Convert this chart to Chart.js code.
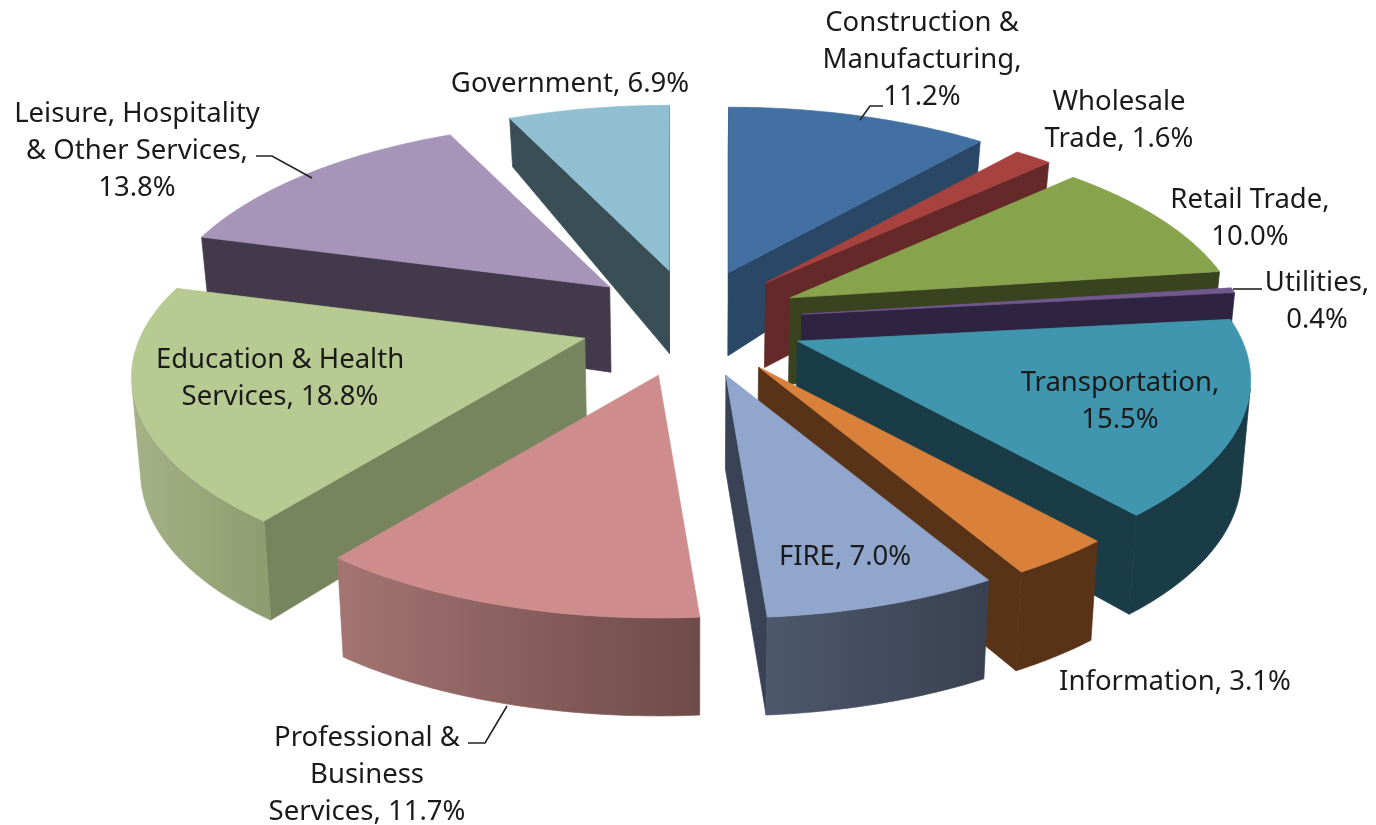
<!DOCTYPE html>
<html>
<head>
<meta charset="utf-8">
<script src="https://cdn.jsdelivr.net/npm/chart.js@4"></script>
<style>
  html, body { margin: 0; background: #fff; }
  canvas { display: block; }
</style>
</head>
<body>
<canvas id="pieChart" width="1376" height="825"></canvas>
<script>
const categories = ['Construction & Manufacturing', 'Wholesale Trade', 'Retail Trade', 'Utilities', 'Transportation', 'Information', 'FIRE', 'Professional & Business Services', 'Education & Health Services', 'Leisure, Hospitality & Other Services', 'Government'];
const shares = [11.2, 1.6, 10.0, 0.4, 15.5, 3.1, 7.0, 11.7, 18.8, 13.8, 6.9];

const topColors = ['#4270a3', '#a8423f', '#87a34c', '#71588f', '#4096ae', '#d9803b', '#91a6cd', '#ce8d8c', '#b6ca92', '#a695b9', '#90bfd2'];
const wallColors = ['#2a4766', '#652929', '#3a431f', '#2e2340', '#1a3c47', '#583318', '#3a4255', '#704d4b', '#76855d', '#43394a', '#3a4e55'];
const rimLeft = ['#2a4766', '#652929', '#3a431f', '#2e2340', '#1a3c47', '#583318', '#4e586d', '#a37472', '#a5b186', '#43394a', '#3a4e55'];
const rimRight = ['#2a4766', '#652929', '#3a431f', '#2e2340', '#1a3c47', '#583318', '#394150', '#6e4b49', '#8d9d70', '#43394a', '#3a4e55'];

// text lines of each data label, the value goes on the end of the last one
const labelLines = [
  ['Construction &', 'Manufacturing,', ''],
  ['Wholesale', 'Trade, '],
  ['Retail Trade,', ''],
  ['Utilities,', ''],
  ['Transportation,', ''],
  ['Information, '],
  ['FIRE, '],
  ['Professional &', 'Business', 'Services, '],
  ['Education & Health', 'Services, '],
  ['Leisure, Hospitality', '& Other Services,', ''],
  ['Government, ']
];
const labelX = [922, 1119, 1250, 1317, 1120, 1175, 845, 367, 280, 137, 570];
const labelY = [23, 102, 200, 283, 383, 682, 557, 738, 360, 114, 84];
const leaders = [
  [[860, 120], [870, 106], [883, 106]],
  [[1233, 289], [1262, 289]],
  [[256, 156], [272, 156], [312, 178]],
  [[507, 706], [485, 743], [468, 743]]
];

const CENTER_X = 692, CENTER_Y = 321, UNIT = 445;
const TILT = 196.6, PERSPECTIVE = 0.19, BOTTOM_SHRINK = 0.984, APEX_STRETCH = 1.1;

function depthAt(gy) {
  return 89 - 21.7 * gy - 11.7 * gy * gy;
}

function project(gx, gy) {
  const s = 1 / (1 + PERSPECTIVE * gy);
  return [gx * s * UNIT, -gy * s * TILT];
}

// the slice keeps its own shape round its apex, only the apex moves out
function placePoint(apex, gx, gy, totalGy, bottom) {
  const p = project(gx, gy);
  const x = apex[0] + p[0], y = apex[1] + p[1];
  if (!bottom) return [CENTER_X + x, CENTER_Y + y];
  return [CENTER_X + x * BOTTOM_SHRINK, CENTER_Y + y + depthAt(totalGy)];
}

function area(pts) {
  let a = 0;
  pts.forEach((p, i) => {
    const q = pts[(i + 1) % pts.length];
    a += p[0] * q[1] - q[0] * p[1];
  });
  return a;
}

function fillPoly(ctx, pts, color) {
  ctx.beginPath();
  pts.forEach((p, i) => i ? ctx.lineTo(p[0], p[1]) : ctx.moveTo(p[0], p[1]));
  ctx.closePath();
  ctx.fillStyle = color;
  ctx.strokeStyle = color;
  ctx.lineWidth = 0.7;
  ctx.fill();
  ctx.stroke();
}

function drawSlice(ctx, arc, i) {
  const p = arc.getProps(['startAngle', 'endAngle', 'outerRadius']);
  const a0 = p.startAngle + Math.PI / 2, a1 = p.endAngle + Math.PI / 2;
  const mid = (a0 + a1) / 2;
  const off = arc.options.offset / p.outerRadius;
  const ox = off * Math.sin(mid), oy = off * Math.cos(mid);
  const apexPos = project(ox, oy);
  const apex = [apexPos[0], apexPos[1] * APEX_STRETCH];
  const steps = Math.max(2, Math.ceil((a1 - a0) / 0.015));

  const ring = [];
  for (let n = 0; n <= steps; n++) {
    const a = a0 + (a1 - a0) * n / steps;
    const gx = Math.sin(a), gy = Math.cos(a);
    ring.push({
      top: placePoint(apex, gx, gy, oy + gy, false),
      bot: placePoint(apex, gx, gy, oy + gy, true)
    });
  }
  const apexTop = placePoint(apex, 0, 0, oy, false), apexBot = placePoint(apex, 0, 0, oy, true);
  const first = ring[0], last = ring[steps];

  // radial walls, only the ones turned to the viewer
  const endWall = [apexTop, last.top, last.bot, apexBot];
  if (area(endWall) > 0) fillPoly(ctx, endWall, wallColors[i]);
  const startWall = [apexTop, first.top, first.bot, apexBot];
  if (area(startWall) < 0) fillPoly(ctx, startWall, wallColors[i]);

  // outer rim
  const seen = [];
  for (let n = 0; n < steps; n++) {
    const quad = [ring[n].top, ring[n + 1].top, ring[n + 1].bot, ring[n].bot];
    if (area(quad) < 0) seen.push(n);
  }
  if (seen.length) {
    const s0 = seen[0], s1 = seen[seen.length - 1] + 1;
    const run = ring.slice(s0, s1 + 1);
    const poly = run.map(r => r.top).concat(run.map(r => r.bot).reverse());
    const xs = poly.map(q => q[0]);
    const grad = ctx.createLinearGradient(Math.min(...xs), 0, Math.max(...xs), 0);
    grad.addColorStop(0, rimLeft[i]);
    grad.addColorStop(1, rimRight[i]);
    fillPoly(ctx, poly, grad);
  }

  // top face
  fillPoly(ctx, [apexTop].concat(ring.map(r => r.top)), arc.options.backgroundColor);
}

const slicedPie = {
  id: 'slicedPie',
  beforeDatasetsDraw(chart) {
    const ctx = chart.ctx;
    const arcs = chart.getDatasetMeta(0).data.map((arc, i) => {
      const p = arc.getProps(['startAngle', 'endAngle']);
      return { arc, i, depth: Math.cos((p.startAngle + p.endAngle) / 2 + Math.PI / 2) };
    });
    // furthest slice first
    arcs.sort((a, b) => b.depth - a.depth);
    ctx.save();
    arcs.forEach(s => drawSlice(ctx, s.arc, s.i));
    ctx.restore();
    return false;
  },
  afterDraw(chart) {
    const ctx = chart.ctx;
    ctx.save();
    ctx.strokeStyle = '#222';
    ctx.lineWidth = 1.6;
    leaders.forEach(line => {
      ctx.beginPath();
      line.forEach((p, i) => i ? ctx.lineTo(p[0], p[1]) : ctx.moveTo(p[0], p[1]));
      ctx.stroke();
    });
    ctx.font = '27.5px "Noto Sans"';
    ctx.fillStyle = '#1a1a1a';
    ctx.textAlign = 'center';
    ctx.textBaseline = 'middle';
    labelLines.forEach((lines, i) => {
      lines.forEach((text, n) => {
        const str = n === lines.length - 1 ? text + shares[i].toFixed(1) + '%' : text;
        ctx.fillText(str, labelX[i], labelY[i] + n * 37);
      });
    });
    ctx.restore();
  }
};

new Chart(document.getElementById('pieChart').getContext('2d'), {
  type: 'pie',
  data: {
    labels: categories,
    datasets: [{
      data: shares,
      backgroundColor: topColors,
      borderWidth: 0,
      offset: 80
    }]
  },
  options: {
    responsive: false,
    animation: false,
    radius: 320,
    plugins: { legend: { display: false }, tooltip: { enabled: false } }
  },
  plugins: [slicedPie]
});
</script>
</body>
</html>
